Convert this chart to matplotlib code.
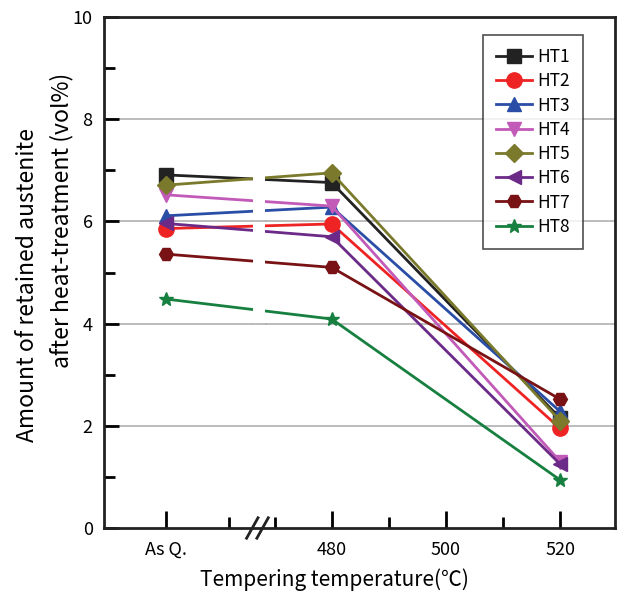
import matplotlib.pyplot as plt
from matplotlib.ticker import FixedLocator

plt.rcParams['font.family'] = ['Noto Sans CJK JP', 'DejaVu Sans']

# x positions on a temperature scale; "As Q." is put left of the axis break
x_pos = [451, 480, 520]
tick_pos = [451, 480, 500, 520]
tick_labels = ['As Q.', '480', '500', '520']

names = ['HT1', 'HT2', 'HT3', 'HT4', 'HT5', 'HT6', 'HT7', 'HT8']
ht1 = [6.91, 6.76, 2.15]
ht2 = [5.86, 5.95, 1.95]
ht3 = [6.11, 6.28, 2.28]
ht4 = [6.52, 6.30, 1.30]
ht5 = [6.71, 6.95, 2.10]
ht6 = [5.96, 5.70, 1.25]
ht7 = [5.36, 5.10, 2.52]
ht8 = [4.48, 4.09, 0.94]
series = [ht1, ht2, ht3, ht4, ht5, ht6, ht7, ht8]

colors = ['#222222', '#ee2424', '#2a4ea6', '#c25ab8', '#7b7a2c', '#6c2a88', '#781214', '#178040']
markers = ['s', 'o', '^', 'v', 'D', '<', 'H', '*']
msizes = [10, 11, 10, 10, 9, 10, 10, 10]

fig = plt.figure(figsize=(6.18, 5.95), dpi=100)
ax = fig.add_axes([0.168, 0.1126, 0.827, 0.8588])

for y in [2, 4, 6, 8]:
    ax.axhline(y, color='#b0b0b0', lw=1.2, zorder=0)

for name, vals, c, m, ms in zip(names, series, colors, markers, msizes):
    ax.plot(x_pos, vals, color=c, lw=2, marker=m, markersize=ms,
            markeredgecolor=c, label=name, zorder=3)

# gap in the lines at the axis break
ax.axvspan(466.2, 468.4, ymin=0.35, ymax=0.75, color='white', zorder=3.5, lw=0)
ax.hlines([4, 6], 466.0, 468.6, color='#b0b0b0', lw=1.2, zorder=3.6)

ax.set_xlim(440.1, 529.6)
ax.set_ylim(0, 10)
ax.set_xticks(tick_pos)
ax.set_xticklabels(tick_labels)
ax.xaxis.set_minor_locator(FixedLocator([462, 470, 490, 510]))
ax.set_yticks([0, 2, 4, 6, 8, 10])
ax.yaxis.set_minor_locator(FixedLocator([1, 3, 5, 7, 9]))

ax.tick_params(which='major', direction='in', length=12, width=2, labelsize=13, pad=9)
ax.tick_params(which='minor', direction='in', length=8, width=2)
ax.tick_params(axis='y', which='major', length=11, pad=8)
for s in ax.spines.values():
    s.set_linewidth(2)
    s.set_color('#222222')

# break marks on the x axis
for dx in [-1.2, 0.6]:
    ax.plot([466.3 + dx, 468.3 + dx], [-0.2, 0.2], color='#222222', lw=2,
            clip_on=False, zorder=5)

fig.text(334 / 618, 1 - 580 / 595, 'Tempering temperature(℃)', fontsize=15,
         ha='center', va='center')
fig.text(28 / 618, 1 - 285 / 595, 'Amount of retained austenite', fontsize=16.5,
         rotation=90, ha='center', va='center')
fig.text(62 / 618, 1 - 220 / 595, 'after heat-treatment (vol%)', fontsize=16.5,
         rotation=90, ha='center', va='center')

leg = ax.legend(loc='upper right', bbox_to_anchor=(583 / 618, 1 - 35 / 595),
                bbox_transform=fig.transFigure, fontsize=12.5,
                frameon=True, fancybox=False, edgecolor='#222222', handlelength=2.1,
                labelspacing=0.36, borderpad=0.75, handletextpad=0.3, borderaxespad=0)
leg.get_frame().set_linewidth(1.2)

fig.savefig('out.png', dpi=100)
